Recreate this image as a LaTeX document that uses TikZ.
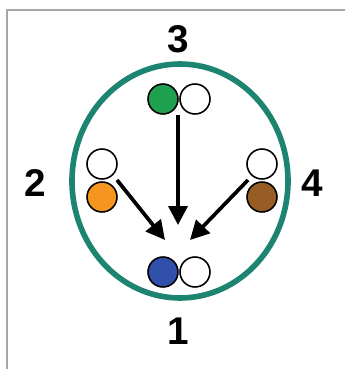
\documentclass[tikz,border=0pt]{standalone}
\usepackage{fontspec}
\setmainfont{Liberation Sans}
\usepackage{xcolor}
\usetikzlibrary{arrows.meta}

\definecolor{ringteal}{RGB}{28,132,112}
\definecolor{dotgreen}{RGB}{30,160,78}
\definecolor{dotorange}{RGB}{246,150,32}
\definecolor{dotbrown}{RGB}{150,94,36}
\definecolor{dotblue}{RGB}{48,80,172}

\begin{document}
\begin{tikzpicture}[
  x=0.02cm, y=0.02cm,
  dot/.style={circle, draw=black, line width=0.9pt, minimum size=0.6cm, inner sep=0pt},
  poslabel/.style={font=\fontsize{22}{22}\selectfont\bfseries},
  flow/.style={line width=2.1pt, -{Triangle[length=0.38cm, width=0.38cm]}},
]
  \useasboundingbox (0,0) rectangle (345,369);

  % ── Frame ──
  \draw[gray!70, line width=0.8pt] (7,0) -- (7,359) -- (345,359);

  % ── Ring ──
  \draw[ringteal, line width=3.2pt] (180,188) ellipse [x radius=108, y radius=117];

  % ── Positions ──
  \node[dot, fill=dotgreen] (g3) at (163,270) {};
  \node[dot, fill=white] (w3) at (195,270) {};
  \node[dot, fill=white] (w2) at (102,205) {};
  \node[dot, fill=dotorange] (o2) at (102,172) {};
  \node[dot, fill=white] (w4) at (262,205) {};
  \node[dot, fill=dotbrown] (b4) at (262,172) {};
  \node[dot, fill=dotblue] (b1) at (163,97) {};
  \node[dot, fill=white] (w1) at (195,97) {};

  % ── Labels ──
  \node[poslabel] (l3) at (178,330) {3};
  \node[poslabel] (l2) at (35,186) {2};
  \node[poslabel] (l4) at (312,186) {4};
  \node[poslabel] (l1) at (178,38) {1};

  % ── Arrows ──
  \coordinate (s3) at (178,254);
  \coordinate (s2) at (117,189);
  \coordinate (s4) at (248,189);
  \coordinate (t3) at (178,144);
  \coordinate (t2) at (165,129);
  \coordinate (t4) at (190,129);
  \draw[flow] (s3) -- (t3);
  \draw[flow] (s2) -- (t2);
  \draw[flow] (s4) -- (t4);

\end{tikzpicture}
\end{document}
